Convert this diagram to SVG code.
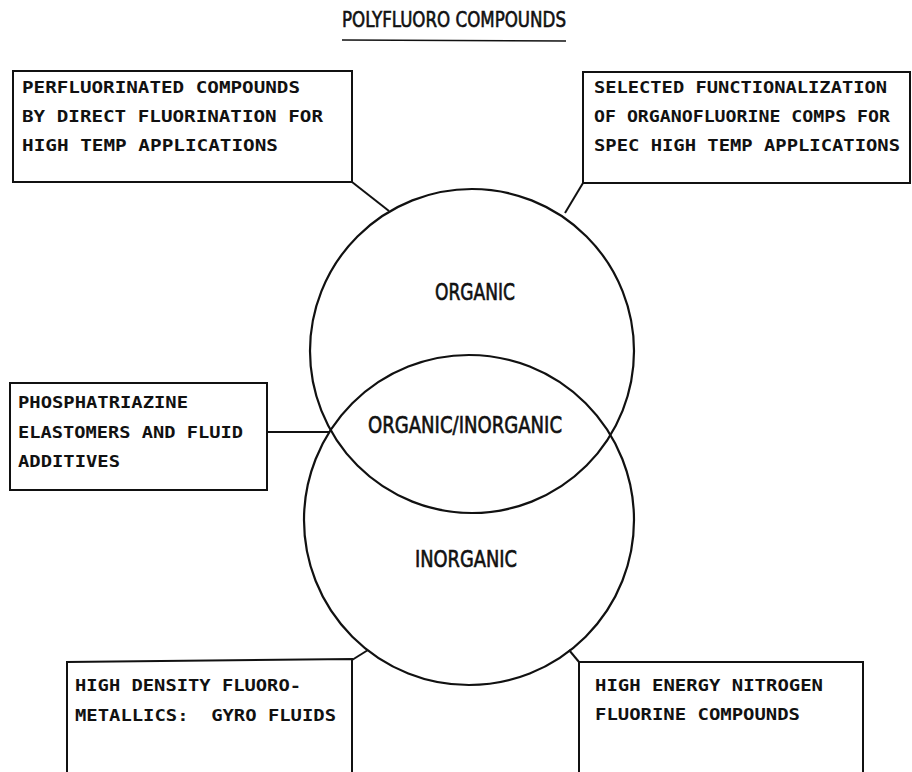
<svg xmlns="http://www.w3.org/2000/svg" width="912" height="772" viewBox="0 0 912 772">
<style>
.box{fill:none;stroke:#111;stroke-width:2}
.circ{fill:none;stroke:#111;stroke-width:2.2}
.conn{fill:none;stroke:#111;stroke-width:2}
.lbl{font-family:"DejaVu Sans Mono","Liberation Mono",monospace;font-weight:bold;font-size:15.5px;fill:#111;white-space:pre}
.big{font-family:"DejaVu Sans Condensed","DejaVu Sans","Liberation Sans",sans-serif;font-size:23px;fill:#111;stroke:#111;stroke-width:0.6}
</style>
<rect x="0" y="0" width="912" height="772" fill="#fff"/>
<g id="title">
<text class="big" x="342" y="27" style="font-size:21px" textLength="224" lengthAdjust="spacingAndGlyphs">POLYFLUORO COMPOUNDS</text>
<line x1="342" y1="40" x2="566" y2="41" stroke="#111" stroke-width="1.6"/>
</g>
<g id="venn">
<circle class="circ" cx="472" cy="351" r="162"/>
<circle class="circ" cx="469" cy="520" r="165"/>
<text class="big" x="435" y="300" textLength="80" lengthAdjust="spacingAndGlyphs">ORGANIC</text>
<text class="big" x="368" y="433" textLength="194" lengthAdjust="spacingAndGlyphs">ORGANIC/INORGANIC</text>
<text class="big" x="415" y="567" textLength="102" lengthAdjust="spacingAndGlyphs">INORGANIC</text>
</g>
<g id="connectors">
<polyline class="conn" points="352,182 389,211"/>
<polyline class="conn" points="583,183 565,213"/>
<polyline class="conn" points="267,432 330,432"/>
<polyline class="conn" points="352,660 368,650"/>
<polyline class="conn" points="579,662 569,650"/>
</g>
<g id="box-perfluorinated">
<rect class="box" x="13" y="71" width="339" height="111"/>
<text class="lbl" x="22" y="93" textLength="278" lengthAdjust="spacingAndGlyphs">PERFLUORINATED COMPOUNDS</text>
<text class="lbl" x="22" y="122" textLength="301" lengthAdjust="spacingAndGlyphs">BY DIRECT FLUORINATION FOR</text>
<text class="lbl" x="22" y="151" textLength="256" lengthAdjust="spacingAndGlyphs">HIGH TEMP APPLICATIONS</text>
</g>
<g id="box-functionalization">
<rect class="box" x="583" y="72" width="327" height="111"/>
<text class="lbl" x="594" y="93" textLength="293" lengthAdjust="spacingAndGlyphs">SELECTED FUNCTIONALIZATION</text>
<text class="lbl" x="594" y="122" textLength="296" lengthAdjust="spacingAndGlyphs">OF ORGANOFLUORINE COMPS FOR</text>
<text class="lbl" x="594" y="151" textLength="306" lengthAdjust="spacingAndGlyphs">SPEC HIGH TEMP APPLICATIONS</text>
</g>
<g id="box-phosphatriazine">
<rect class="box" x="10" y="383" width="257" height="107"/>
<text class="lbl" x="18" y="408" textLength="170" lengthAdjust="spacingAndGlyphs">PHOSPHATRIAZINE</text>
<text class="lbl" x="18" y="438" textLength="225" lengthAdjust="spacingAndGlyphs">ELASTOMERS AND FLUID</text>
<text class="lbl" x="18" y="467" textLength="102" lengthAdjust="spacingAndGlyphs">ADDITIVES</text>
</g>
<g id="box-fluorometallics">
<polyline class="box" points="67,772 67,662 352,659 352,772"/>
<text class="lbl" x="75" y="691" textLength="226" lengthAdjust="spacingAndGlyphs">HIGH DENSITY FLUORO-</text>
<text class="lbl" x="75" y="721" textLength="261" lengthAdjust="spacingAndGlyphs">METALLICS:  GYRO FLUIDS</text>
</g>
<g id="box-nitrogen-fluorine">
<polyline class="box" points="579,772 579,662 863,662 863,772"/>
<text class="lbl" x="595" y="691" textLength="228" lengthAdjust="spacingAndGlyphs">HIGH ENERGY NITROGEN</text>
<text class="lbl" x="595" y="720" textLength="205" lengthAdjust="spacingAndGlyphs">FLUORINE COMPOUNDS</text>
</g>
</svg>
